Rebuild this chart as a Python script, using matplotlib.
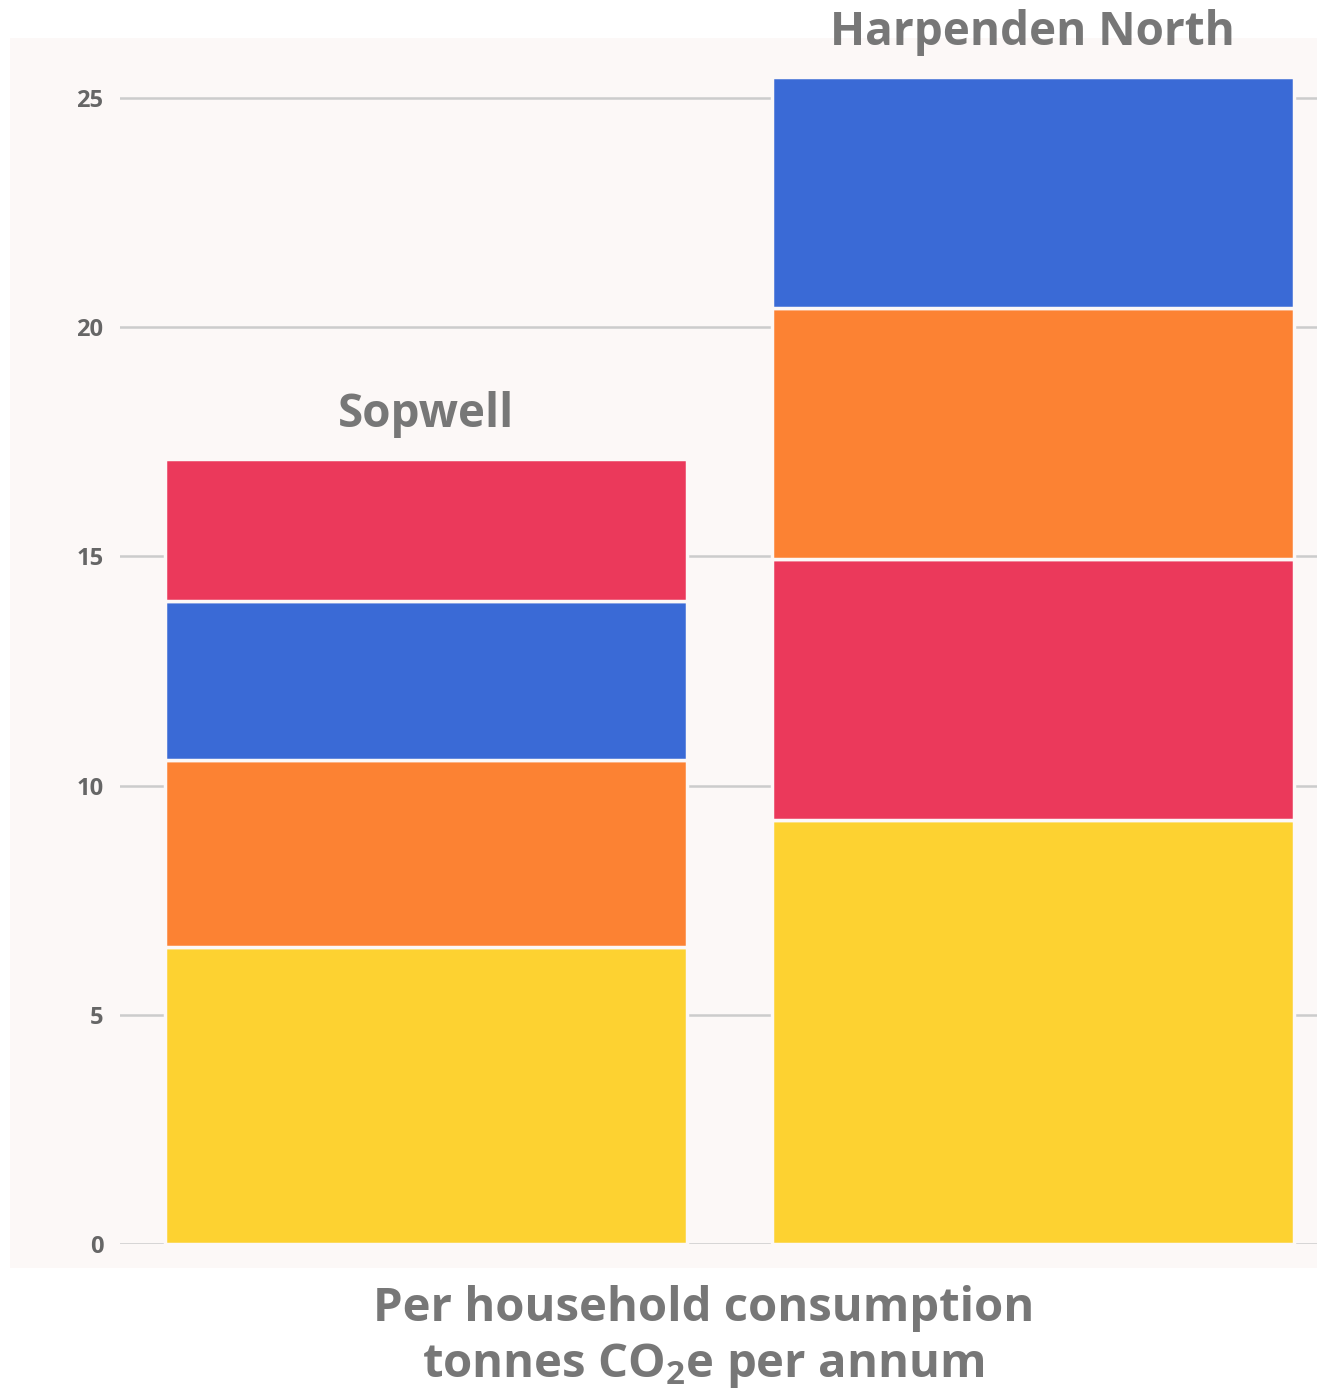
import matplotlib.pyplot as plt
from matplotlib.patches import Rectangle

# ward names and their stacked segments (bottom to top)
wards = ['Sopwell', 'Harpenden North']
sopwell_values = [6.48, 4.08, 3.47, 3.09]
sopwell_colors = ['#fdd231', '#fc8233', '#3a6ad6', '#eb395b']
harpenden_values = [9.25, 5.69, 5.48, 5.04]
harpenden_colors = ['#fdd231', '#eb395b', '#fc8233', '#3a6ad6']
yticks = [0, 5, 10, 15, 20, 25]

segments = [sopwell_values, harpenden_values]
seg_colors = [sopwell_colors, harpenden_colors]

plt.rcParams['font.family'] = ['Open Sans', 'DejaVu Sans']
plt.rcParams['mathtext.fontset'] = 'custom'
plt.rcParams['mathtext.rm'] = 'Open Sans:bold'
plt.rcParams['mathtext.bf'] = 'Open Sans:bold'
text_grey = '#777777'

fig = plt.figure(figsize=(13.17, 13.92), dpi=100)
# light panel behind the plot
fig.patches.append(Rectangle((10 / 1317, 1 - 1268 / 1392), 1307 / 1317, 1230 / 1392,
                             transform=fig.transFigure, facecolor='#fcf8f7',
                             edgecolor='none', zorder=-10))

ax = fig.add_axes([120 / 1317, 1 - 1244 / 1392, 1197 / 1317, 1206 / 1392])
ax.set_facecolor('none')

for i, (vals, cols) in enumerate(zip(segments, seg_colors)):
    bottom = 0
    for v, c in zip(vals, cols):
        ax.bar(i, v, bottom=bottom, width=0.86, color=c, edgecolor='#fcf8f7',
               linewidth=2.5, zorder=2)
        bottom += v
    ax.annotate(wards[i], (i, bottom), xytext=(0, 15), textcoords='offset points',
                ha='center', va='bottom', fontsize=33, fontweight='bold',
                color=text_grey, annotation_clip=False)

ax.set_xlim(-0.504, 1.468)
ax.set_ylim(0, 26.31)
ax.set_yticks(yticks)
ax.set_xticks([])
ax.grid(axis='y', color='#cccccc', linewidth=1.8, zorder=1)
ax.tick_params(axis='y', length=0, pad=12, labelsize=17, labelcolor='#666666')
for lbl in ax.get_yticklabels():
    lbl.set_fontweight('bold')
for s in ax.spines.values():
    s.set_visible(False)

fig.text(0.534, 1 - 1308 / 1392, 'Per household consumption', ha='center', va='center',
         fontsize=34, fontweight='bold', color=text_grey)
fig.text(0.534, 1 - 1365 / 1392, r'tonnes CO$_{\mathbf{2}}$e per annum', ha='center',
         va='center', fontsize=34, fontweight='bold', color=text_grey)

fig.savefig('out.png', dpi=100)
